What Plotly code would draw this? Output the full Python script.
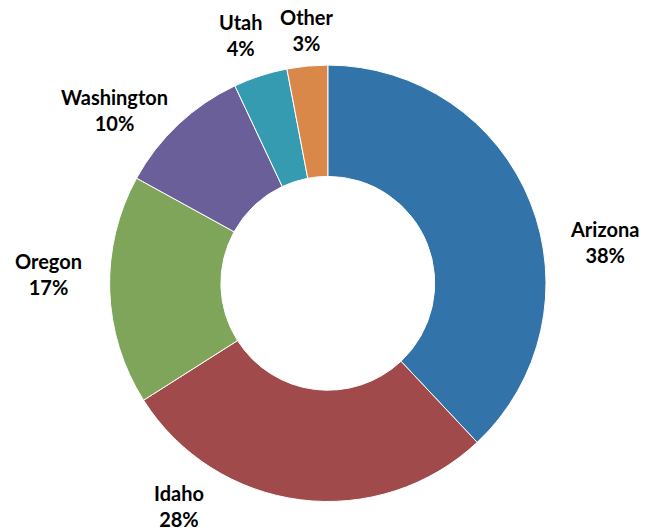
import plotly.graph_objects as go

states = ["Arizona", "Idaho", "Oregon", "Washington", "Utah", "Other"]
shares = [38, 28, 17, 10, 4, 3]
colors = ["#3274A9", "#A04A4B", "#7EA55A", "#6B5F99", "#359BB1", "#D9884A"]

# label block centers in pixels (layout only)
label_px = [(604, 242), (179, 506), (48, 274), (114, 110), (241, 35), (307, 30)]

W, H = 657, 531

fig = go.Figure(go.Pie(
    labels=states,
    values=shares,
    hole=0.49,
    sort=False,
    direction="clockwise",
    rotation=0,
    textinfo="none",
    hoverinfo="label+percent",
    marker=dict(colors=colors, line=dict(color="white", width=1)),
    domain=dict(x=[109.6 / W, 546.0 / W], y=[29.5 / H, 465.9 / H]),
    showlegend=False,
))

annotations = []
for s, v, (px, py) in zip(states, shares, label_px):
    annotations.append(dict(
        x=px / W, y=1 - py / H, xref="paper", yref="paper",
        text=f"<b>{s}<br>{v}%</b>", showarrow=False,
        xanchor="center", yanchor="middle", align="center",
        font=dict(family="Lato", size=20, color="#000000"),
    ))

fig.update_layout(
    width=W, height=H,
    margin=dict(l=0, r=0, t=0, b=0),
    paper_bgcolor="white", plot_bgcolor="white",
    annotations=annotations,
)

fig.write_html("out.html", config={"displayModeBar": False},
               post_script="document.body.style.margin='0px';")
